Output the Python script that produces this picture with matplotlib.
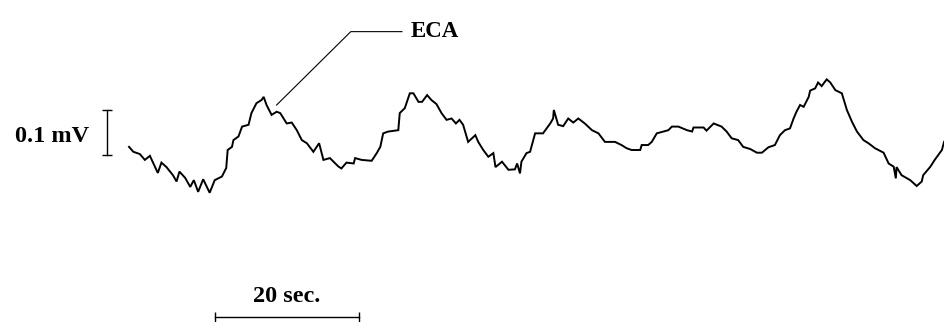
import matplotlib
matplotlib.use("Agg")
import matplotlib.pyplot as plt

# ECA trace: time in seconds, amplitude in microvolts (arbitrary baseline)
t_sec = [
    0.0, 0.6, 1.5, 2.2, 2.9, 3.3, 4.0, 4.5, 5.2, 6.1, 6.6, 7.0, 7.8, 8.5, 9.0,
    9.6, 10.3, 11.2, 11.9, 12.9, 13.5, 13.7, 14.3, 14.5, 15.2, 15.7, 16.6, 17.0,
    17.7, 18.4, 18.7, 19.1, 19.8, 20.5, 21.0, 21.9, 22.6, 23.3, 24.0, 24.7, 25.6,
    26.4, 27.0, 27.9, 29.1, 29.5, 30.2, 31.2, 31.4, 32.3, 33.7, 34.4, 34.9, 35.3,
    36.0, 37.4, 37.6, 38.3, 39.0, 39.5, 40.2, 40.7, 41.4, 42.0, 42.7, 43.4, 44.1,
    44.8, 45.4, 45.9, 46.4, 47.1, 48.1, 48.5, 49.2, 49.9, 50.6, 50.9, 51.8, 52.7,
    53.6, 53.9, 54.3, 54.5, 55.2, 55.7, 56.4, 57.5, 58.5, 58.9, 59.0, 59.6, 60.3,
    61.0, 61.7, 62.4, 63.3, 64.3, 65.2, 66.1, 67.5, 68.4, 69.1, 69.8, 71.0, 71.2,
    72.1, 72.6, 73.3, 74.2, 74.9, 75.4, 76.3, 77.5, 78.2, 78.4, 79.8, 80.2, 81.2,
    82.3, 83.0, 83.7, 84.6, 85.3, 86.3, 87.2, 87.9, 88.8, 89.7, 90.4, 91.1, 91.8,
    92.3, 92.7, 93.2, 93.7, 94.4, 94.6, 95.3, 95.7, 96.2, 96.9, 97.4, 98.1, 99.0,
    99.7, 100.4, 101.1, 102.0, 102.7, 103.6, 104.8, 105.5, 106.2, 106.5, 106.6,
    107.3, 108.5, 109.4, 110.1, 110.3, 111.3, 111.9, 112.9, 113.2,
]
eca_uv = [
    107, 96, 91, 78, 87, 73, 49, 72, 62, 44, 30, 52, 38, 18, 33,
    7, 35, 5, 33, 41, 60, 100, 107, 122, 130, 152, 156, 182,
    204, 211, 218, 200, 178, 185, 182, 159, 161, 144, 122, 115, 96,
    115, 78, 82, 63, 59, 72, 70, 82, 78, 76, 93, 107, 137,
    141, 144, 182, 193, 226, 226, 207, 207, 222, 211, 202, 182, 167,
    170, 159, 167, 156, 118, 133, 118, 100, 85, 93, 62, 74, 56,
    57, 70, 48, 74, 93, 96, 137, 137, 159, 170, 189, 156, 153,
    170, 161, 170, 159, 144, 137, 118, 118, 111, 104, 100, 100, 111,
    111, 118, 137, 141, 144, 152, 152, 144, 141, 150, 150, 143, 159,
    152, 141, 126, 122, 107, 102, 94, 94, 106, 111, 133, 144, 148,
    170, 185, 200, 196, 218, 232, 237, 250, 242, 257, 250, 233, 226,
    189, 163, 141, 122, 115, 104, 94, 70, 63, 37, 62,
    44, 33, 20, 30, 44, 63, 78, 100, 118,
]

# scale bars
time_bar_sec = 20
amp_bar_uv = 100

fig = plt.figure(figsize=(9.44, 3.22), dpi=100)
ax = fig.add_axes([0, 0, 1, 1])
ax.set_xlim(-17.92, 113.19)
ax.set_ylim(-282.2, 433.3)
ax.axis("off")

ax.plot(t_sec, eca_uv, color="black", lw=1.4, solid_joinstyle="miter")

serif_bold = dict(family=["Liberation Serif", "DejaVu Serif"], weight="bold",
                  color="black")

# label with leader line
ax.plot([20.5, 30.8, 37.9], [200, 363, 363], color="black", lw=0.8)
ax.text(39.1, 352, "ECA", ha="left", va="baseline", fontsize=16.5, **serif_bold)

# amplitude bar
bar_x = -3.0
bar_y0 = 89
ax.plot([bar_x, bar_x], [bar_y0, bar_y0 + amp_bar_uv], color="black", lw=1.0)
ax.plot([bar_x, bar_x], [bar_y0, bar_y0 + amp_bar_uv], ls="none",
        marker="_", ms=7.5, mew=1.0, color="black")
ax.text(-5.56, 118, "0.1 mV", ha="right", va="baseline", fontsize=17.5,
        **serif_bold)

# time bar
tb_x0 = 11.9
tb_y = -271
ax.plot([tb_x0, tb_x0 + time_bar_sec], [tb_y, tb_y], color="black", lw=1.0)
ax.plot([tb_x0, tb_x0 + time_bar_sec], [tb_y, tb_y], ls="none",
        marker="|", ms=7.5, mew=1.0, color="black")
ax.text(tb_x0 + time_bar_sec / 2, -237, "20 sec.", ha="center", va="baseline",
        fontsize=17.5, **serif_bold)

fig.savefig("out.png", dpi=100, facecolor="white")
